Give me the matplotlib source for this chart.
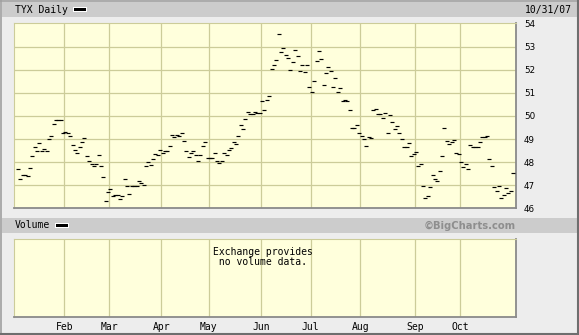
import matplotlib
matplotlib.use("Agg")
import matplotlib.pyplot as plt
from matplotlib.patches import Rectangle
from matplotlib.lines import Line2D

# ---------------- data (TYX daily closes, trading-day index) ----------------
closes = [
    47.69, 47.26, 47.43, 47.43, 47.39, 47.73, 48.25, 48.64, 48.47, 48.81,
    48.47, 48.58, 48.47, 48.99, 49.12, 49.64, 49.81, 49.81, 49.81, 49.25,
    49.32, 49.25, 49.12, 48.73, 48.51, 48.38, 48.64, 48.86, 49.03, 48.25,
    48.03, 47.90, 47.82, 47.90, 48.29, 47.82, 47.34, 46.30, 46.69, 46.82,
    46.52, 46.56, 46.56, 46.39, 46.52, 47.26, 46.95, 46.61, 46.95, 46.95,
    46.95, 47.17, 47.08, 47.00, 47.82, 47.99, 47.86, 48.12, 48.34, 48.29,
    48.51, 48.38, 48.47, 48.47, 48.68, 49.16, 49.07, 49.16, 49.12, 49.25,
    48.90, 48.47, 48.21, 48.38, 48.47, 48.29, 48.03,
    48.29, 48.68, 48.86, 48.18, 48.18, 48.18, 48.38,
    48.03, 47.95, 48.03, 48.38, 48.29, 48.51, 48.60, 48.86, 48.77, 49.12,
    49.59, 49.42, 49.85, 50.16, 50.07, 50.07, 50.16, 50.11, 50.11, 50.63,
    50.24, 50.68, 50.85, 52.02, 52.19, 52.41, 53.53, 52.75, 52.93, 52.62,
    52.49, 51.97, 52.32, 52.84, 52.58, 51.93, 52.19, 51.89, 52.19, 51.24,
    51.02, 51.50,
    52.36, 52.80, 52.45, 51.32, 51.84, 52.10, 51.93, 51.24, 51.63, 51.02,
    51.19, 50.63, 50.68, 50.63, 50.24, 49.46, 49.46, 49.59, 49.25, 49.12,
    48.99, 48.68, 49.07, 49.03, 50.24, 50.29, 50.07, 50.07, 49.90, 50.11,
    49.25, 50.03, 49.73, 49.42, 49.55, 49.25, 48.99, 48.64, 48.64, 48.81,
    48.25, 48.34, 48.42,
    47.82, 47.90, 46.95, 46.43, 46.52, 46.91, 47.43, 47.26, 47.17, 47.60,
    48.25, 49.46, 48.90, 48.77, 48.86, 48.94, 48.38, 48.34, 48.00, 47.77,
    47.90, 47.69, 48.73, 48.64, 48.64, 48.64, 48.86, 49.07, 49.10, 49.12,
    48.12, 47.82, 46.91, 46.74, 46.95, 46.43, 46.56, 46.87, 46.65, 46.74,
    47.52,
]
month_labels = ["Feb", "Mar", "Apr", "May", "Jun", "Jul", "Aug", "Sep", "Oct"]
month_start_idx = [20, 39, 61, 81, 103, 124, 145, 168, 187]
price_ticks = [46, 47, 48, 49, 50, 51, 52, 53, 54]
title_text = "TYX Daily"
date_text = "10/31/07"
volume_title = "Volume"
volume_msg = ["Exchange provides", " no volume data."]
credit = "\u00a9BigCharts.com"

# ---------------- layout helpers (pixel based) ----------------
W, H = 579, 335
fig = plt.figure(figsize=(W / 100, H / 100), dpi=100, facecolor="#EDEDED")


def fx(px):
    return px / W


def fy(py):
    return 1 - py / H


def rect(x0, y0, x1, y1, **kw):
    fig.add_artist(Rectangle((fx(x0), fy(y1)), (x1 - x0) / W, (y1 - y0) / H,
                             transform=fig.transFigure, **kw))


def hline(x0, x1, y, color, lw):
    fig.add_artist(Line2D([fx(x0), fx(x1)], [fy(y), fy(y)], color=color, lw=lw,
                          transform=fig.transFigure))


def vline(x, y0, y1, color, lw):
    fig.add_artist(Line2D([fx(x), fx(x)], [fy(y0), fy(y1)], color=color, lw=lw,
                          transform=fig.transFigure))


# outer frame
hline(0, W, 0.7, "#A0A0A0", 1.2)
vline(0.7, 0, H, "#A0A0A0", 1.2)
hline(0, W, H - 1.0, "#6E6E6E", 1.5)
vline(W - 1.0, 0, H, "#6E6E6E", 1.5)

# header bars
rect(2, 2, 577, 16.8, color="#CCCCCC", lw=0)
rect(2, 217.5, 577, 232.8, color="#CCCCCC", lw=0)

mono = "DejaVu Sans Mono"
fig.text(fx(15), fy(9.8), title_text, family=mono, fontsize=7, va="center", ha="left")
rect(73, 6.8, 86.5, 11.9, color="white", lw=0)
rect(73.8, 7.6, 85.7, 11.1, color="black", lw=0)
fig.text(fx(572), fy(9.8), date_text, family=mono, fontsize=7, va="center", ha="right")

fig.text(fx(15), fy(225.5), volume_title, family=mono, fontsize=7, va="center", ha="left")
rect(55, 223.0, 68.5, 228.1, color="white", lw=0)
rect(55.8, 223.8, 67.7, 227.3, color="black", lw=0)
fig.text(fx(515.5), fy(225.5), credit, family="DejaVu Sans", fontsize=7.2,
         fontweight="bold", color="#8E8E8E", va="center", ha="right")

bg = "#FFFFDC"
grid_c = "#CCCC99"
x_left, x_right = 14, 515.5
xlim = (-1.73, 210.0)
grid_x = [m - 0.5 for m in month_start_idx]


def style_axes(ax):
    ax.set_facecolor(bg)
    ax.set_xlim(*xlim)
    for s in ("top", "left"):
        ax.spines[s].set_color(grid_c)
        ax.spines[s].set_linewidth(0.8)
    for s in ("bottom", "right"):
        ax.spines[s].set_color("#8A8A8A")
        ax.spines[s].set_linewidth(1.3)
    for gx in grid_x:
        ax.axvline(gx, color=grid_c, lw=0.9, zorder=0.5)


# ---------------- price panel ----------------
ax = fig.add_axes([fx(x_left), fy(208.4), (x_right - x_left) / W, (208.4 - 23.4) / H])
style_axes(ax)
ax.set_ylim(46, 54)
for t in price_ticks[1:-1]:
    ax.axhline(t, color=grid_c, lw=0.9, zorder=0.5)
ax.plot(range(len(closes)), closes, ls="none", marker="_", ms=2.4, mew=0.85,
        color="black", zorder=3)
ax.set_xticks([])
ax.yaxis.tick_right()
ax.set_yticks(price_ticks)
ax.set_yticklabels([str(t) for t in price_ticks], family="DejaVu Sans", fontsize=6.3)
ax.tick_params(axis="y", length=0, pad=6.2)

# ---------------- volume panel ----------------
vax = fig.add_axes([fx(x_left), fy(317.3), (x_right - x_left) / W, (317.3 - 238.7) / H])
style_axes(vax)
vax.set_ylim(0, 1)
vax.set_yticks([])
vax.set_xticks(grid_x)
vax.set_xticklabels(month_labels, family=mono, fontsize=7)
vax.tick_params(axis="x", length=0, pad=3.2)
fig.text(fx(212.7), fy(251.7), volume_msg[0], family=mono, fontsize=7, va="center", ha="left")
fig.text(fx(212.7), fy(261.7), volume_msg[1], family=mono, fontsize=7, va="center", ha="left")

fig.savefig("out.png", dpi=100, facecolor=fig.get_facecolor())
